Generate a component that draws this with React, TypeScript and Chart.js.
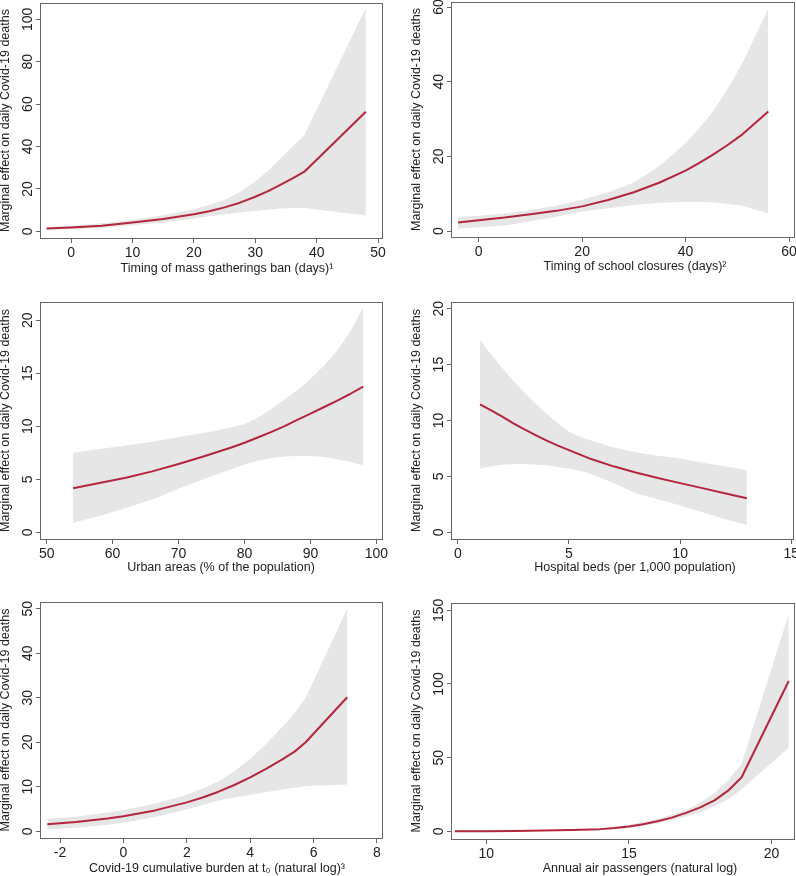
import React, { useEffect, useRef } from "react";
import { Chart, registerables } from "chart.js";

Chart.register(...registerables);

const FONT_FAMILY = "'Liberation Sans', Arial, Helvetica, sans-serif";
const TICK_SIZE = 14;
const TITLE_SIZE = 12.5;
const TEXT_COLOR = "#222222";
const AXIS_COLOR = "#666666";
const LINE_COLOR = "#b3263d";
const BAND_COLOR = "#e6e6e6";
const TICK_LEN = 5;
const Y_LABEL_GAP = 12.5;
const W = 398;
const H = 292;

const Y_TITLE = "Marginal effect on daily Covid-19 deaths";

// Panel 1: mass gatherings ban
const p1X = [-4, 0, 5, 10, 15, 20, 22.5, 25, 27.5, 30, 32, 34, 36, 38, 48];
const p1Mid = [1.3, 1.8, 2.6, 4.1, 5.8, 8.0, 9.5, 11.3, 13.5, 16.3, 18.8, 21.8, 24.8, 28.1, 56.4];
const p1Upper = [2.0, 2.6, 3.8, 5.4, 7.6, 10.4, 12.4, 14.8, 18.5, 23.5, 28.5, 34.0, 39.8, 45.4, 105.5];
const p1Lower = [0.8, 1.1, 1.6, 2.8, 4.2, 6.0, 7.1, 8.0, 8.9, 9.6, 10.2, 10.7, 11.0, 11.0, 7.4];
const p1XTicks = [0, 10, 20, 30, 40, 50];
const p1YTicks = [0, 20, 40, 60, 80, 100];
const p1XTitle = "Timing of mass gatherings ban (days)\u00B9";

// Panel 2: school closures
const p2X = [-4, 0, 5, 10, 15, 20, 25, 30, 35, 40, 42.5, 45, 48, 51, 56];
const p2Mid = [2.3, 2.9, 3.6, 4.5, 5.4, 6.6, 8.3, 10.4, 13.0, 16.2, 18.1, 20.2, 22.9, 25.9, 32.0];
const p2Upper = [3.8, 4.1, 4.7, 5.6, 6.8, 8.4, 10.4, 13.0, 17.5, 23.5, 27.3, 31.5, 37.8, 45.0, 59.5];
const p2Lower = [0.7, 1.0, 1.5, 2.6, 3.8, 5.2, 6.1, 7.0, 7.6, 7.8, 7.8, 7.7, 7.3, 6.8, 4.7];
const p2XTicks = [0, 20, 40, 60];
const p2YTicks = [0, 20, 40, 60];
const p2XTitle = "Timing of school closures (days)\u00B2";

// Panel 3: urban areas
const p3X = [54, 58, 62, 66, 70, 74, 78, 80, 82, 84, 86, 88, 90, 92, 94, 96, 98];
const p3Mid = [4.15, 4.65, 5.15, 5.75, 6.45, 7.2, 8.0, 8.45, 8.95, 9.45, 10.0, 10.6, 11.2, 11.8, 12.4, 13.05, 13.75];
const p3Upper = [7.5, 7.85, 8.2, 8.55, 9.0, 9.4, 9.9, 10.2, 10.8, 11.6, 12.5, 13.4, 14.5, 15.7, 17.1, 18.9, 21.2];
const p3Lower = [0.9, 1.55, 2.3, 3.1, 4.1, 5.05, 5.95, 6.4, 6.75, 7.0, 7.15, 7.2, 7.2, 7.1, 6.9, 6.65, 6.3];
const p3XTicks = [50, 60, 70, 80, 90, 100];
const p3YTicks = [0, 5, 10, 15, 20];
const p3XTitle = "Urban areas (% of the population)";

// Panel 4: hospital beds
const p4X = [1, 1.5, 2, 2.5, 3, 3.5, 4, 4.5, 5, 5.5, 6, 7, 8, 9, 10, 11, 12, 13];
const p4Mid = [11.45, 10.9, 10.35, 9.75, 9.2, 8.7, 8.2, 7.75, 7.35, 6.95, 6.55, 5.9, 5.35, 4.85, 4.4, 3.95, 3.5, 3.05];
const p4Upper = [17.2, 15.9, 14.7, 13.55, 12.5, 11.5, 10.6, 9.75, 9.0, 8.55, 8.2, 7.6, 7.15, 6.85, 6.6, 6.25, 5.9, 5.55];
const p4Lower = [5.7, 5.9, 6.05, 6.1, 6.1, 6.05, 6.0, 5.85, 5.7, 5.5, 5.2, 4.4, 3.5, 2.95, 2.4, 1.8, 1.2, 0.65];
const p4XTicks = [0, 5, 10, 15];
const p4YTicks = [0, 5, 10, 15, 20];
const p4XTitle = "Hospital beds (per 1,000 population)";

// Panel 5: cumulative burden
const p5X = [-2.4, -1.5, -0.5, 0, 1, 2, 2.5, 3, 3.5, 4, 4.5, 5, 5.4, 5.75, 7.06];
const p5Mid = [1.6, 2.1, 2.9, 3.4, 4.7, 6.5, 7.6, 8.9, 10.4, 12.1, 14.0, 16.1, 17.9, 20.0, 30.1];
const p5Upper = [2.8, 3.3, 4.2, 4.8, 6.2, 8.2, 9.6, 11.2, 13.5, 16.3, 19.6, 23.3, 26.6, 30.0, 50.0];
const p5Lower = [0.4, 0.8, 1.5, 1.9, 3.2, 4.9, 5.9, 6.9, 7.6, 8.2, 8.8, 9.4, 9.8, 10.2, 10.5];
const p5XTicks = [-2, 0, 2, 4, 6, 8];
const p5YTicks = [0, 10, 20, 30, 40, 50];
const p5XTitle = "Covid-19 cumulative burden at t\u2080 (natural log)\u00B3";

// Panel 6: air passengers
const p6X = [8.9, 10, 11, 12, 13, 14, 14.5, 15, 15.5, 16, 16.5, 17, 17.5, 18, 18.5, 18.95, 20.6];
const p6Mid = [0, 0.05, 0.2, 0.5, 0.9, 1.5, 2.2, 3.3, 4.8, 6.8, 9.3, 12.5, 16.3, 21.0, 28.0, 36.7, 102.0];
const p6Upper = [0.1, 0.2, 0.3, 0.7, 1.2, 2.0, 3.0, 4.5, 6.3, 8.5, 11.2, 14.5, 19.5, 26.0, 35.0, 46.0, 147.5];
const p6Lower = [-0.1, -0.1, 0.1, 0.3, 0.6, 1.0, 1.6, 2.5, 3.8, 5.5, 7.5, 10.0, 13.0, 17.0, 22.0, 28.5, 56.5];
const p6XTicks = [10, 15, 20];
const p6YTicks = [0, 50, 100, 150];
const p6XTitle = "Annual air passengers (natural log)";

type Panel = {
  x: number[];
  mid: number[];
  upper: number[];
  lower: number[];
  xTicks: number[];
  yTicks: number[];
  xTitle: string;
  xMin: number;
  xMax: number;
  yMin: number;
  yMax: number;
  box: { l: number; r: number; t: number; b: number };
  yTitlePad: number;
  xTitlePad: number;
  xTitleShift: number;
};

const PANELS: Panel[] = [
  { x: p1X, mid: p1Mid, upper: p1Upper, lower: p1Lower, xTicks: p1XTicks, yTicks: p1YTicks, xTitle: p1XTitle,
    xMin: -4.9, xMax: 50.8, yMin: -3.16, yMax: 107.7, box: { l: 41, r: 383, t: 3, b: 238 }, yTitlePad: -2, xTitlePad: 16, xTitleShift: 15 },
  { x: p2X, mid: p2Mid, upper: p2Upper, lower: p2Lower, xTicks: p2XTicks, yTicks: p2YTicks, xTitle: p2XTitle,
    xMin: -5.17, xMax: 61.16, yMin: -1.6, yMax: 61.34, box: { l: 54, r: 397, t: 2, b: 237 }, yTitlePad: 11.5, xTitlePad: 18, xTitleShift: 11.5 },
  { x: p3X, mid: p3Mid, upper: p3Upper, lower: p3Lower, xTicks: p3XTicks, yTicks: p3YTicks, xTitle: p3XTitle,
    xMin: 49.14, xMax: 101.0, yMin: -0.63, yMax: 21.73, box: { l: 41, r: 383, t: 10, b: 247 }, yTitlePad: -2, xTitlePad: 9, xTitleShift: 9 },
  { x: p4X, mid: p4Mid, upper: p4Upper, lower: p4Lower, xTicks: p4XTicks, yTicks: p4YTicks, xTitle: p4XTitle,
    xMin: -0.26, xMax: 15.12, yMin: -0.6, yMax: 20.6, box: { l: 54, r: 396, t: 10, b: 247 }, yTitlePad: 11.5, xTitlePad: 9, xTitleShift: 12 },
  { x: p5X, mid: p5Mid, upper: p5Upper, lower: p5Lower, xTicks: p5XTicks, yTicks: p5YTicks, xTitle: p5XTitle,
    xMin: -2.6, xMax: 8.19, yMin: -1.5, yMax: 51.5, box: { l: 41, r: 383, t: 18, b: 254 }, yTitlePad: -1.5, xTitlePad: 0, xTitleShift: 5 },
  { x: p6X, mid: p6Mid, upper: p6Upper, lower: p6Lower, xTicks: p6XTicks, yTicks: p6YTicks, xTitle: p6XTitle,
    xMin: 8.8, xMax: 20.82, yMin: -5.2, yMax: 154.95, box: { l: 54, r: 397, t: 19, b: 255 }, yTitlePad: 11.5, xTitlePad: 0, xTitleShift: 16.5 },
];

const pts = (xs: number[], ys: number[]) => xs.map((x, i) => ({ x, y: ys[i] }));

const framePlugin = {
  id: "frame",
  afterDraw(chart: any) {
    const { ctx, chartArea: a } = chart;
    ctx.save();
    ctx.strokeStyle = AXIS_COLOR;
    ctx.lineWidth = 1;
    const l = Math.round(a.left) - 0.5;
    const t = Math.round(a.top) + 0.5;
    const r = Math.round(a.right) - 0.5;
    const b = Math.round(a.bottom) + 0.5;
    ctx.strokeRect(l, t, r - l, b - t);
    ctx.restore();
  },
};

const titleShiftPlugin = {
  id: "titleShift",
  beforeDraw(chart: any, _args: any, opts: any) {
    const sx: any = chart.scales.x;
    if (sx && !sx.__shifted) {
      const orig = sx.drawTitle;
      sx.drawTitle = function (this: any) {
        const ctx = this.ctx;
        ctx.save();
        ctx.translate(opts.dx || 0, 0);
        orig.call(this);
        ctx.restore();
      };
      sx.__shifted = true;
    }
  },
};

function PanelChart({ p, index }: { p: Panel; index: number }) {
  const ref = useRef<HTMLCanvasElement>(null);
  useEffect(() => {
    const canvas = ref.current!;
    const m = document.createElement("canvas").getContext("2d")!;
    m.font = `${TICK_SIZE}px ${FONT_FAMILY}`;
    const widest = Math.max(...p.yTicks.map((v) => m.measureText(String(v)).width));
    const yTickPad = Y_LABEL_GAP - TICK_LEN - widest / 2;
    const tickFont = { family: FONT_FAMILY, size: TICK_SIZE };
    const titleFont = { family: FONT_FAMILY, size: TITLE_SIZE };
    const grid = {
      display: true,
      drawOnChartArea: false,
      drawTicks: true,
      tickLength: TICK_LEN,
      color: AXIS_COLOR,
      lineWidth: 1,
    };
    const chart = new Chart(canvas, {
      type: "line",
      data: {
        datasets: [
          {
            data: pts(p.x, p.upper),
            fill: "+1",
            order: 1,
            backgroundColor: BAND_COLOR,
            borderColor: "rgba(0,0,0,0)",
            borderWidth: 0,
            pointRadius: 0,
            tension: 0,
          },
          {
            data: pts(p.x, p.lower),
            fill: false,
            order: 2,
            backgroundColor: BAND_COLOR,
            borderColor: "rgba(0,0,0,0)",
            borderWidth: 0,
            pointRadius: 0,
            tension: 0,
          },
          {
            data: pts(p.x, p.mid),
            fill: false,
            order: 0,
            borderColor: LINE_COLOR,
            borderWidth: 2,
            borderJoinStyle: "round",
            pointRadius: 0,
            tension: 0,
          },
        ],
      },
      options: {
        responsive: false,
        animation: false,
        devicePixelRatio: 1,
        layout: { padding: { left: 0, top: p.box.t, right: W - p.box.r, bottom: 0 } },
        plugins: {
          legend: { display: false },
          tooltip: { enabled: false },
          titleShift: { dx: p.xTitleShift },
        } as any,
        scales: {
          x: {
            type: "linear",
            min: p.xMin,
            max: p.xMax,
            afterBuildTicks: (s: any) => {
              s.ticks = p.xTicks.map((v) => ({ value: v }));
            },
            afterFit: (s: any) => {
              s.height = H - p.box.b;
              s.paddingLeft = 0;
              s.paddingRight = 0;
            },
            ticks: {
              autoSkip: false,
              maxRotation: 0,
              minRotation: 0,
              padding: 2,
              font: tickFont,
              color: TEXT_COLOR,
              callback: (v: any) => String(v),
            },
            grid,
            border: { display: false },
            title: {
              display: true,
              text: p.xTitle,
              font: titleFont,
              color: TEXT_COLOR,
              padding: { top: 0, bottom: p.xTitlePad },
            },
          },
          y: {
            type: "linear",
            min: p.yMin,
            max: p.yMax,
            afterBuildTicks: (s: any) => {
              s.ticks = p.yTicks.map((v) => ({ value: v }));
            },
            afterFit: (s: any) => {
              s.width = p.box.l;
              s.paddingTop = 0;
              s.paddingBottom = 0;
            },
            ticks: {
              autoSkip: false,
              minRotation: 90,
              maxRotation: 90,
              crossAlign: "center",
              padding: yTickPad,
              font: tickFont,
              color: TEXT_COLOR,
              callback: (v: any) => String(v),
            },
            grid,
            border: { display: false },
            title: {
              display: true,
              text: Y_TITLE,
              font: titleFont,
              color: TEXT_COLOR,
              padding: { top: p.yTitlePad, bottom: 0 },
            },
          },
        },
      } as any,
      plugins: [framePlugin, titleShiftPlugin],
    });
    return () => chart.destroy();
  }, [p]);
  const col = index % 2;
  const row = Math.floor(index / 2);
  return (
    <canvas
      ref={ref}
      width={W}
      height={H}
      style={{ position: "absolute", left: col * W, top: row * H, width: W, height: H, display: "block" }}
    />
  );
}

export default function App() {
  return (
    <div style={{ position: "absolute", left: 0, top: 0, width: 796, height: 876, background: "#ffffff" }}>
      {PANELS.map((p, i) => (
        <PanelChart key={i} p={p} index={i} />
      ))}
    </div>
  );
}
